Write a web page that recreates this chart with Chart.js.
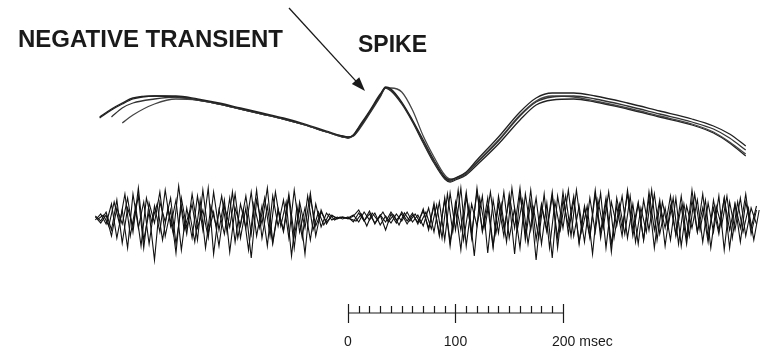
<!DOCTYPE html>
<html>
<head>
<meta charset="utf-8">
<script src="https://cdn.jsdelivr.net/npm/chart.js@4/dist/chart.umd.min.js"></script>
<style>
  html, body { margin: 0; padding: 0; background: #fff; }
  #wrap { width: 761px; height: 349px; }
</style>
</head>
<body>
<div id="wrap"><canvas id="trace" width="761" height="349"></canvas></div>
<script>
// time of each sample in the averaged sweeps (ms, 0 = start of spike rise)
const sweepTimes = [-231, -220, -210, -200, -180, -160, -140, -120, -100, -80, -60, -40, -20, -5, 0, 5, 10, 20, 30, 35,
  40, 50, 60, 70, 80, 90, 95, 100, 110, 120, 140, 160, 175, 190, 210, 230, 260, 290, 320, 340, 355, 370];

// upper traces, superimposed sweeps (arbitrary units)
const sweepA = [82, 90, 96, 101, 104, 104, 101, 97, 92, 87, 82, 76, 69, 64, 63, 65, 72, 88, 105, 113,
  111, 98, 80, 60, 40, 23, 20, 22, 28, 40, 63, 88, 102, 107, 107, 104, 97, 89, 81, 74, 66, 54];
const sweepB = [null, 83, 92, 97, 101, 103, 100, 96, 91, 86, 81, 75, 68, 63, 62, 64, 70, 86, 103, 112,
  110, 97, 79, 58, 38, 22, 19, 21, 26, 37, 59, 84, 98, 103, 104, 101, 94, 86, 78, 71, 62, 50];
const sweepC = [null, null, 77, 85, 96, 101, 100, 96, 91, 86, 81, 75, 68, 64, 63, 64, 71, 87, 104, 112,
  112, 108, 90, 64, 43, 25, 21, 22, 27, 38, 60, 85, 99, 104, 103, 99, 92, 84, 76, 68, 58, 46];
const sweepD = [83, 91, 97, 102, 104, 103, 100, 96, 91, 86, 81, 75, 68, 63, 62, 65, 73, 89, 106, 112,
  109, 96, 78, 57, 37, 21, 18, 20, 25, 35, 56, 80, 95, 100, 101, 98, 91, 83, 75, 67, 57, 44];

// lower raw recording, 5 ms samples; the sweeps start slightly apart
const noiseStep = 5;
const noiseStarts = [-235, -235, -235, -232.5];
const noise1 = [2, -3, 6,
  -12, 18, -25, 10, -8, 22, -30, 15, -5, 26, -18, 8, -35, 20, -10, 14, -22, 28, -15, 6,
  -28, 12, -9, 24, -20, 10, -40, 18, -6, 30, -24, 9, -14, 20, -30, 16, -10, 25, -18,
  8, -6, 3, -1, 1, 0,
  3, -4, 6, -2, 5, -7, 2, -5, 4, -3, 6, -4, 3,
  -8, 10, -14, 16,
  -22, 25, -12, 30, -28, 14, -8, 22, -35, 18, -15, 26, -20, 10, -30, 24, -12, 20, -26, 15,
  -40, 22, -10, 28, -18, 12, -24, 20, -14, 25, -30, 16, -8, 22, -20, 14, -26, 18, -12, 24,
  -16, 10, -22, 20, -28, 12, -10, 18, -24, 15, -14, 22, -32, 16, -12, 20, -18, 10, -6];
const noise2 = [-2, 4, -6,
  14, -20, 8, -30, 24, -10, 16, -26, 12, -14, 28, -8, 18, -32, 10, -20, 22, -12, 30, -36,
  8, -16, 20, -24, 14, -10, 26, -18, 12, -28, 22, -8, 18, -20, 28, -14, 10, -22, 14,
  -9, 5, -2, 1, -1, 1,
  -4, 5, -3, 7, -6, 3, -12, 4, -5, 6, -3, 5, -6,
  9, -12, 15, -18,
  20, -28, 16, -12, 26, -20, 30, -14, 12, -30, 22, -10, 18, -36, 24, -16, 28, -22, 14, -12,
  26, -30, 18, -8, 22, -26, 12, -18, 28, -20, 16, -34, 20, -10, 24, -18, 14, -22, 26, -12,
  18, -28, 12, -16, 22, -20, 28, -14, 10, -24, 18, -12, 20, -30, 14, -10, 24, -16, 8];
const noise3 = [1, -5, 3,
  -18, 10, -6, 20, -14, 30, -22, 6, -42, 16, -4, 20, -26, 12, -16, 24, -10, 8, -20, 26,
  -12, 18, -34, 10, -8, 22, -16, 28, -20, 12, -26, 8, -12, 24, -18, 10, -36, 20, -8,
  6, -4, 2, 0, 1, -1,
  2, 8, -3, 4, -5, 3, -4, 6, -2, 4, -6, 3, -4,
  7, -10, 12, -16,
  18, -24, 10, -32, 22, -16, 26, -12, 20, -28, 14, -18, 24, -10, 30, -22, 16, -42, 12, -14,
  22, -20, 26, -16, 18, -24, 10, -20, 24, -14, 20, -26, 12, -18, 28, -12, 16, -22, 20, -30,
  14, -10, 22, -18, 12, -26, 18, -14, 24, -20, 10, -16, 20, -12, 14, -24, 16, -10, 12];
const noise4 = [-1, 3, -8,
  16, -6, 24, -18, 12, -28, 20, -4, 14, -22, 10, -16, 32, -12, 6, -24, 18, -30, 12, -8,
  22, -14, 26, -20, 8, -32, 14, -10, 20, -18, 26, -8, 16, -38, 12, -20, 22, -12, 6,
  -7, 4, -2, 1, 0, -1,
  -3, 4, -8, 5, -2, 6, -4, 3, -7, 5, -3, 4, -5,
  6, -11, 13, -20,
  24, -14, 28, -22, 12, -38, 20, -10, 26, -16, 14, -24, 30, -12, 18, -26, 10, -20, 24, -30,
  16, -12, 22, -18, 28, -14, 12, -36, 18, -10, 26, -20, 14, -16, 22, -24, 10, -14, 28, -22,
  16, -10, 20, -26, 14, -18, 24, -12, 18, -30, 12, -8, 22, -20, 16, -14, 10, -22, 8];

// time scale bar
const scaleMinorTicks = [10, 20, 30, 40, 50, 60, 70, 80, 90, 110, 120, 130, 140, 150, 160, 170, 180, 190];
const scaleMajorTicks = [0, 100, 200];
const scaleLabels = ['0', '100', '200 msec'];

const FONT = '"Liberation Sans", Arial, sans-serif';

function toPoints(times, values) {
  return times.map((t, i) => ({ x: t, y: values[i] }));
}

function noisePoints(values, start) {
  return values.map((v, i) => ({ x: start + i * noiseStep, y: v }));
}

function sweepDataset(values, color) {
  return {
    data: toPoints(sweepTimes, values),
    yAxisID: 'y',
    borderColor: color,
    borderWidth: 1.3,
    pointRadius: 0,
    tension: 0.4,
    cubicInterpolationMode: 'monotone',
    spanGaps: false,
  };
}

function noiseDataset(values, start) {
  return {
    data: noisePoints(values, start),
    yAxisID: 'yNoise',
    borderColor: '#111',
    borderWidth: 1.1,
    pointRadius: 0,
    tension: 0,
  };
}

const annotations = {
  id: 'annotations',
  afterDraw(chart) {
    const ctx = chart.ctx;
    const x = chart.scales.x;
    ctx.save();
    ctx.fillStyle = '#1a1a1a';
    ctx.strokeStyle = '#1a1a1a';

    ctx.font = 'bold 24px ' + FONT;
    ctx.textBaseline = 'alphabetic';
    ctx.textAlign = 'left';
    ctx.fillText('NEGATIVE TRANSIENT', 18, 47);
    ctx.font = 'bold 23px ' + FONT;
    ctx.fillText('SPIKE', 358, 52);

    // arrow pointing at the negative transient
    const x0 = 289, y0 = 8, x1 = 365, y1 = 91;
    const ang = Math.atan2(y1 - y0, x1 - x0);
    ctx.lineWidth = 1.3;
    ctx.beginPath();
    ctx.moveTo(x0, y0);
    ctx.lineTo(x1 - 10 * Math.cos(ang), y1 - 10 * Math.sin(ang));
    ctx.stroke();
    ctx.beginPath();
    ctx.moveTo(x1, y1);
    ctx.lineTo(x1 - 14 * Math.cos(ang) + 5 * Math.sin(ang), y1 - 14 * Math.sin(ang) - 5 * Math.cos(ang));
    ctx.lineTo(x1 - 14 * Math.cos(ang) - 5 * Math.sin(ang), y1 - 14 * Math.sin(ang) + 5 * Math.cos(ang));
    ctx.closePath();
    ctx.fill();

    // scale bar
    const barY = 313;
    ctx.lineWidth = 1.2;
    ctx.beginPath();
    ctx.moveTo(x.getPixelForValue(scaleMajorTicks[0]), barY);
    ctx.lineTo(x.getPixelForValue(scaleMajorTicks[scaleMajorTicks.length - 1]), barY);
    scaleMinorTicks.forEach((t) => {
      const px = Math.round(x.getPixelForValue(t)) + 0.5;
      ctx.moveTo(px, barY);
      ctx.lineTo(px, barY - 7);
    });
    scaleMajorTicks.forEach((t) => {
      const px = Math.round(x.getPixelForValue(t)) + 0.5;
      ctx.moveTo(px, barY - 9);
      ctx.lineTo(px, barY + 10);
    });
    ctx.stroke();

    ctx.font = '14px ' + FONT;
    ctx.textBaseline = 'alphabetic';
    scaleMajorTicks.forEach((t, i) => {
      const px = x.getPixelForValue(t);
      if (i === scaleMajorTicks.length - 1) {
        ctx.textAlign = 'left';
        ctx.fillText(scaleLabels[i], px - 11, 346);
      } else {
        ctx.textAlign = 'center';
        ctx.fillText(scaleLabels[i], px, 346);
      }
    });
    ctx.restore();
  },
};

new Chart(document.getElementById('trace'), {
  type: 'line',
  data: {
    datasets: [
      sweepDataset(sweepA, '#222'),
      sweepDataset(sweepB, '#333'),
      sweepDataset(sweepC, '#444'),
      sweepDataset(sweepD, '#222'),
      noiseDataset(noise1, noiseStarts[0]),
      noiseDataset(noise2, noiseStarts[1]),
      noiseDataset(noise3, noiseStarts[2]),
      noiseDataset(noise4, noiseStarts[3]),
    ],
  },
  options: {
    responsive: false,
    animation: false,
    layout: { padding: 0 },
    plugins: {
      legend: { display: false },
      tooltip: { enabled: false },
    },
    scales: {
      x: { type: 'linear', display: false, min: -323.7, max: 384.2 },
      y: { display: false, min: -149, max: 200 },
      yNoise: { display: false, min: -131, max: 218 },
    },
  },
  plugins: [annotations],
});
</script>
</body>
</html>
